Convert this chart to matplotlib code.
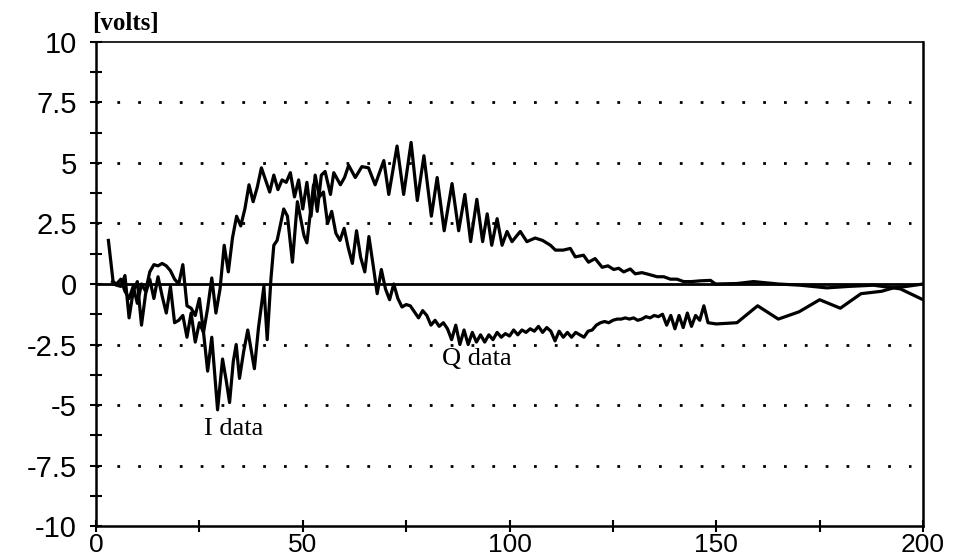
import matplotlib.pyplot as plt
from matplotlib.ticker import MultipleLocator, FixedFormatter, FixedLocator

# I data
i_x = [3, 3.6, 4.2, 5, 6, 7, 8, 9, 10, 11, 12, 13, 14, 15, 16, 17, 18, 19, 20, 21,
       22, 23, 24, 25, 26, 27, 28, 29.4, 30.6, 31.5, 32.3, 33.2, 33.9, 34.7, 35.7, 36.7,
       38.3, 39.3, 40.6, 41.4, 42.3, 43, 43.8, 45.4, 46.3, 47.5, 48.7, 50.3, 51,
       52.6, 53.5, 54.5, 55.4, 56.7, 57.5, 59.1, 60.1, 61.1, 62.7, 64.3, 65.9, 67.5,
       69.6, 70.8, 72.8, 74.4, 76.2, 77.7, 79.3, 81.1, 82.5, 84.2, 86.1, 87.7, 89.2,
       90.6, 92.1, 93.5, 94.6, 95.7, 97, 98.2, 99.4, 100.6, 102.6, 104.2, 106.2, 108,
       109.9, 111.1, 113, 114.7, 115.9, 117.9, 119.1, 120.7, 122.4, 123.8, 125.2,
       126.4, 127.6, 129.2, 130.4, 132, 133.6, 135.7, 137.3, 138.9, 140.5, 142.1,
       144, 146.1, 148.6, 149.8, 155, 159, 165, 170.3, 176.7, 182, 188, 194.5, 200]
i_v = [1.8, 0.9, 0.0, -0.05, -0.1, 0.35, -1.4, -0.3, 0.1, -1.7, -0.4, 0.2, -0.6, 0.3,
       -0.5, -1.2, -0.1, -1.6, -1.5, -1.3, -2.2, -1.2, -2.4, -1.6, -2.0, -3.6, -2.2,
       -5.2, -3.1, -4.0, -4.9, -3.2, -2.5, -3.9, -2.8, -1.9, -3.5, -1.8, -0.1, -2.3,
       0.2, 1.6, 1.8, 3.1, 2.8, 0.9, 3.4, 2.0, 1.7, 4.1, 3.0, 4.5, 4.65, 3.7, 4.6, 4.1,
       4.4, 4.9, 4.4, 4.85, 4.8, 4.1, 5.1, 3.7, 5.7, 3.7, 5.85, 3.45, 5.3, 2.8, 4.4,
       2.2, 4.15, 2.2, 3.7, 1.75, 3.5, 1.75, 2.9, 1.6, 2.7, 1.6, 2.17, 1.75, 2.17,
       1.75, 1.9, 1.8, 1.6, 1.4, 1.4, 1.47, 1.12, 1.19, 0.9, 1.05, 0.69, 0.75, 0.6,
       0.65, 0.5, 0.62, 0.42, 0.47, 0.4, 0.3, 0.3, 0.2, 0.2, 0.1, 0.1, 0.13, 0.15,
       0.0, 0.02, 0.1, 0.0, -0.05, -0.16, -0.1, -0.05, -0.2, -0.65]

# Q data
q_x = [4, 5, 6, 7, 8, 9, 10, 11, 12, 13, 14, 15, 16, 17, 18, 19, 20, 21, 22, 23, 24,
       25, 26, 27, 28, 29, 30, 31, 32, 33, 34, 35, 36, 37, 38, 39, 40, 41, 42, 43, 44,
       45, 46, 47, 48, 49, 50, 51, 52, 53, 54, 55, 56, 57, 58, 59, 60, 61, 62, 63, 64,
       65, 66, 67, 68, 69, 70, 71, 72, 73, 74, 75, 76, 77, 78, 79, 80, 81, 82, 83, 84,
       85, 86, 87, 88, 89, 90, 91, 92, 93, 94, 95, 96, 97, 98, 99, 100, 101, 102, 103,
       104, 105, 106, 107, 108, 109, 110, 111, 112, 113, 114, 115, 116, 117, 118, 119,
       120, 121, 122, 123, 124, 125, 126, 127, 128, 129, 130, 131, 132, 133, 134, 135,
       136, 137, 138, 139, 140, 141, 142, 143, 144, 145, 146, 147, 148, 150, 155, 160,
       165, 170, 175, 180, 185, 190, 193, 196, 200]
q_v = [0.1, 0.0, 0.2, -0.3, -0.6, -0.1, -0.8, 0.0, -0.3, 0.5, 0.8, 0.75, 0.85, 0.75,
       0.55, 0.2, 0.0, 0.8, -0.9, -1.0, -1.3, -0.6, -2.0, -1.0, 0.25, -1.2, -0.2, 1.6,
       0.5, 1.9, 2.8, 2.4, 3.1, 4.1, 3.4, 4.0, 4.8, 4.3, 3.8, 4.5, 3.9, 4.3, 4.2, 4.6,
       3.6, 4.3, 3.1, 4.2, 2.8, 4.5, 3.6, 3.8, 2.5, 3.0, 2.1, 1.8, 2.3, 1.5, 0.85, 2.2,
       1.1, 0.5, 1.96, 0.8, -0.4, 0.6, -0.2, -0.65, 0.0, -0.6, -0.95, -0.85, -0.9,
       -1.15, -1.4, -1.1, -1.3, -1.7, -1.5, -1.75, -1.6, -1.85, -2.3, -1.7, -2.5, -1.9,
       -2.5, -2.0, -2.4, -2.1, -2.4, -2.1, -2.3, -2.0, -2.2, -2.05, -2.15, -1.9, -2.1,
       -1.9, -2.0, -1.85, -1.95, -1.75, -2.0, -1.8, -1.95, -2.35, -1.95, -2.2, -2.0,
       -2.2, -2.0, -2.1, -2.2, -1.95, -1.9, -1.7, -1.6, -1.55, -1.6, -1.5, -1.45,
       -1.45, -1.4, -1.45, -1.4, -1.5, -1.45, -1.35, -1.4, -1.3, -1.35, -1.25, -1.7,
       -1.3, -1.85, -1.3, -1.8, -1.2, -1.75, -1.3, -1.5, -0.9, -1.6, -1.65, -1.6, -0.9,
       -1.45, -1.15, -0.65, -1.0, -0.4, -0.3, -0.15, -0.1, 0.0]

y_ticks = [-10, -7.5, -5, -2.5, 0, 2.5, 5, 7.5, 10]
y_tick_labels = ["-10", "-7.5", "-5", "-2.5", "0", "2.5", "5", "7.5", "10"]
x_ticks = [0, 50, 100, 150, 200]
grid_levels = [-7.5, -5, -2.5, 2.5, 5, 7.5]

fig = plt.figure(figsize=(9.6, 5.59), dpi=100)
ax = fig.add_axes([0.1, 0.0590, 0.8615, 0.8659])

for g in grid_levels:
    ax.axhline(g, color="black", lw=2, linestyle=(0, (1, 6.5)), xmax=0.985)
ax.axhline(0, color="black", lw=2)

ax.plot(i_x, i_v, color="black", lw=2.3)
ax.plot(q_x, q_v, color="black", lw=2.3)

ax.set_xlim(0, 200)
ax.set_ylim(-10, 10)

ax.yaxis.set_major_locator(FixedLocator(y_ticks))
ax.yaxis.set_major_formatter(FixedFormatter(y_tick_labels))
ax.yaxis.set_minor_locator(MultipleLocator(1.25))
ax.xaxis.set_major_locator(FixedLocator(x_ticks))
ax.xaxis.set_minor_locator(MultipleLocator(25))

ax.tick_params(which="both", direction="inout", length=8, width=1.5, color="black")
ax.tick_params(axis="y", which="major", pad=10, labelsize=21)
ax.tick_params(axis="x", which="major", pad=1, labelsize=19)
for lab in ax.get_xticklabels() + ax.get_yticklabels():
    lab.set_family("Liberation Sans")

for s in ax.spines.values():
    s.set_linewidth(1.8)
    s.set_color("black")
ax.spines["top"].set_linewidth(1.2)

ax.text(-1, 10.3, "[volts]", family="Liberation Serif", fontsize=18, fontweight="bold",
        ha="left", va="bottom")
ax.text(33.2, -6.0, "I data", family="Liberation Serif", fontsize=19, ha="center",
        va="center")
ax.text(92, -3.1, "Q data", family="Liberation Serif", fontsize=19, ha="center",
        va="center")

plt.savefig("out.png", dpi=100)
plt.close()
